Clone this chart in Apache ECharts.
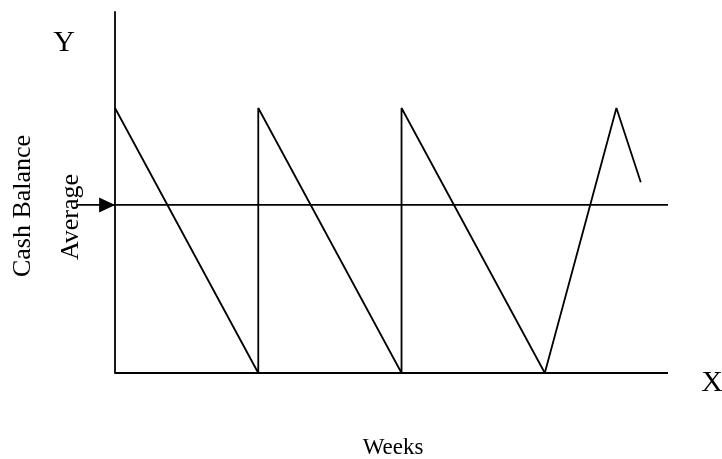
<!DOCTYPE html>
<html><head><meta charset="utf-8">
<script src="https://cdn.jsdelivr.net/npm/echarts@6/dist/echarts.min.js"></script>
<style>html,body{margin:0;padding:0;background:#fff}#c{width:722px;height:459px}</style>
</head><body><div id="c"></div>
<script>
// Cash balance sawtooth (x in weeks, y in % of peak balance)
const weeks = [0, 1, 1, 2, 2, 3, 3.5, 3.67];
const balance = [100, 0, 100, 0, 100, 0, 100, 72];
const averageLevel = 63.4;
const avgStart = -0.27, xEnd = 3.86, xMin = -0.5, yTop = 136.2;
const arrowAt = -0.055;
const labels = {y: 'Y', x: 'X', xName: 'Weeks', yName: 'Cash Balance', avg: 'Average'};

const chart = echarts.init(document.getElementById('c'), null, {renderer: 'canvas'});
const font = '"Liberation Serif", "Times New Roman", serif';
const lineStyle = {color: '#000', width: 1.8};
const unit = 553 / xEnd;
chart.setOption({
  animation: false,
  grid: {left: 115 + xMin * unit, right: 54, top: 12, bottom: 86},
  xAxis: {type: 'value', min: xMin, max: xEnd, axisLine: {show: false}, axisTick: {show: false},
          axisLabel: {show: false}, splitLine: {show: false}},
  yAxis: {type: 'value', min: 0, max: yTop, axisLine: {show: true, onZero: true, lineStyle}, axisTick: {show: false},
          axisLabel: {show: false}, splitLine: {show: false}},
  series: [
    {type: 'line', data: [[0, 0], [xEnd, 0]], symbol: 'none', lineStyle},
    {type: 'line', data: weeks.map((w, i) => [w, balance[i]]), symbol: 'none', lineStyle},
    {type: 'line', data: [[avgStart, averageLevel], [xEnd, averageLevel]], symbol: 'none', lineStyle},
    {type: 'scatter', data: [[arrowAt, averageLevel]], symbol: 'triangle', symbolRotate: -90,
     symbolSize: [15, 16], itemStyle: {color: '#000', opacity: 1}}
  ],
  graphic: [
    {type: 'text', x: 64, y: 43, style: {text: labels.y, font: '30px ' + font, fill: '#000', align: 'center', verticalAlign: 'middle'}},
    {type: 'text', x: 712, y: 383, style: {text: labels.x, font: '30px ' + font, fill: '#000', align: 'center', verticalAlign: 'middle'}},
    {type: 'text', x: 393, y: 448, style: {text: labels.xName, font: '23px ' + font, fill: '#000', align: 'center', verticalAlign: 'middle'}},
    {type: 'text', x: 23, y: 206, rotation: Math.PI / 2, style: {text: labels.yName, font: '26px ' + font, fill: '#000', align: 'center', verticalAlign: 'middle'}},
    {type: 'text', x: 71, y: 217, rotation: Math.PI / 2, style: {text: labels.avg, font: '26px ' + font, fill: '#000', align: 'center', verticalAlign: 'middle'}}
  ]
});
</script></body></html>
